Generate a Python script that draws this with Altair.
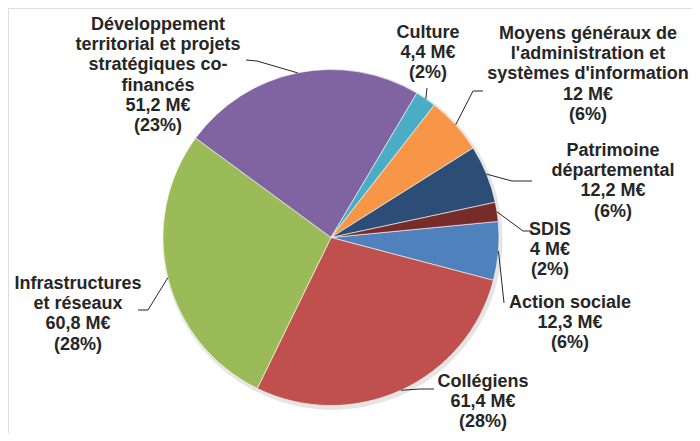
import math
import altair as alt
import pandas as pd

# ---------------- data ----------------
categories = [
    "Action sociale",
    "Collégiens",
    "Infrastructures et réseaux",
    "Développement territorial et projets stratégiques co-financés",
    "Culture",
    "Moyens généraux de l'administration et systèmes d'information",
    "Patrimoine départemental",
    "SDIS",
]
label_names = [
    "Action sociale",
    "Collégiens",
    "Infrastructures\net réseaux",
    "Développement\nterritorial et projets\nstratégiques co-\nfinancés",
    "Culture",
    "Moyens généraux de\nl'administration et\nsystèmes d'information",
    "Patrimoine\ndépartemental",
    "SDIS",
]
values = [12.3, 61.4, 60.8, 51.2, 4.4, 12, 12.2, 4]
percents = [6, 28, 28, 23, 2, 6, 6, 2]
colors = ["#4F81BD", "#C0504D", "#9BBB59", "#8064A2",
          "#4BACC6", "#F79646", "#2C4D75", "#772C2A"]

# ---------------- layout (pixels, picture coordinates) ----------------
OFF = 8                      # page margin
CX, CY = 331 - OFF, 237.5 - OFF
R = 168
START = math.radians(84.5)   # angle of first slice (clockwise from 12 o'clock)

# label anchor: (x centre, baseline of first line)
label_pos = [
    (570, 308), (483, 387), (78, 289), (158, 30),
    (428, 38), (588, 39), (613, 156), (550, 235),
]
# leader line points after the slice edge point
leader_pts = [
    [(504, 303)],
    [(420, 389), (434, 389)],
    [(148, 310), (138, 310)],
    [(257, 61), (246, 60)],
    [(427, 88)],
    [(473, 91), (483, 91)],
    [(512, 181), (532, 181)],
    [(523, 231), (532, 231)],
]

total = sum(values)
fmt = lambda v: f"{v:g}".replace(".", ",")

df = pd.DataFrame({
    "idx": list(range(len(categories))),
    "cat": categories,
    "value": values,
    "label": [f"{n}\n{fmt(v)} M€\n({p}%)" for n, v, p in zip(label_names, values, percents)],
    "lx": [p[0] - OFF for p in label_pos],
    "ly": [p[1] - OFF for p in label_pos],
})

rows = []
cum = 0.0
for i, (c, v) in enumerate(zip(categories, values)):
    mid = START + 2 * math.pi * (cum + v / 2) / total
    cum += v
    sx = CX + R * math.sin(mid)
    sy = CY - R * math.cos(mid)
    rows.append({"cat": c, "ord": 0, "x": sx, "y": sy})
    for k, (px, py) in enumerate(leader_pts[i]):
        rows.append({"cat": c, "ord": k + 1, "x": px - OFF, "y": py - OFF})
lines_df = pd.DataFrame(rows)

base = alt.Chart(df)

shadow = base.transform_aggregate(total="sum(value)").mark_arc(
    outerRadius=R + 2, color="#000000", opacity=0.10
).encode(theta=alt.Theta("total:Q"), x=alt.value(CX + 1.5), y=alt.value(CY + 2))

pie = base.mark_arc(outerRadius=R, stroke="#ffffff", strokeWidth=0.6).encode(
    theta=alt.Theta("value:Q", stack=True,
                    scale=alt.Scale(range=[START, START + 2 * math.pi])),
    color=alt.Color("cat:N", scale=alt.Scale(domain=categories, range=colors), legend=None),
    order=alt.Order("idx:Q"),
    x=alt.value(CX), y=alt.value(CY),
)

leaders = alt.Chart(lines_df).mark_line(color="#262626", strokeWidth=1).encode(
    x=alt.X("x:Q", scale=None, axis=None),
    y=alt.Y("y:Q", scale=None, axis=None),
    detail="cat:N",
    order="ord:Q",
)

labels = base.mark_text(
    align="center", baseline="alphabetic", lineBreak="\n", lineHeight=20.2,
    font="Liberation Sans", fontSize=18, fontWeight="bold", color="#262626",
).encode(
    x=alt.X("lx:Q", scale=None, axis=None),
    y=alt.Y("ly:Q", scale=None, axis=None),
    text="label:N",
)

chart = alt.layer(shadow, pie, leaders, labels).properties(
    width=684, height=425, padding=0,
    autosize=alt.AutoSizeParams(type="none"),
).configure_view(stroke=None).configure(background="#ffffff")

chart.save("out.html", embed_options={"renderer": "svg", "actions": False})
